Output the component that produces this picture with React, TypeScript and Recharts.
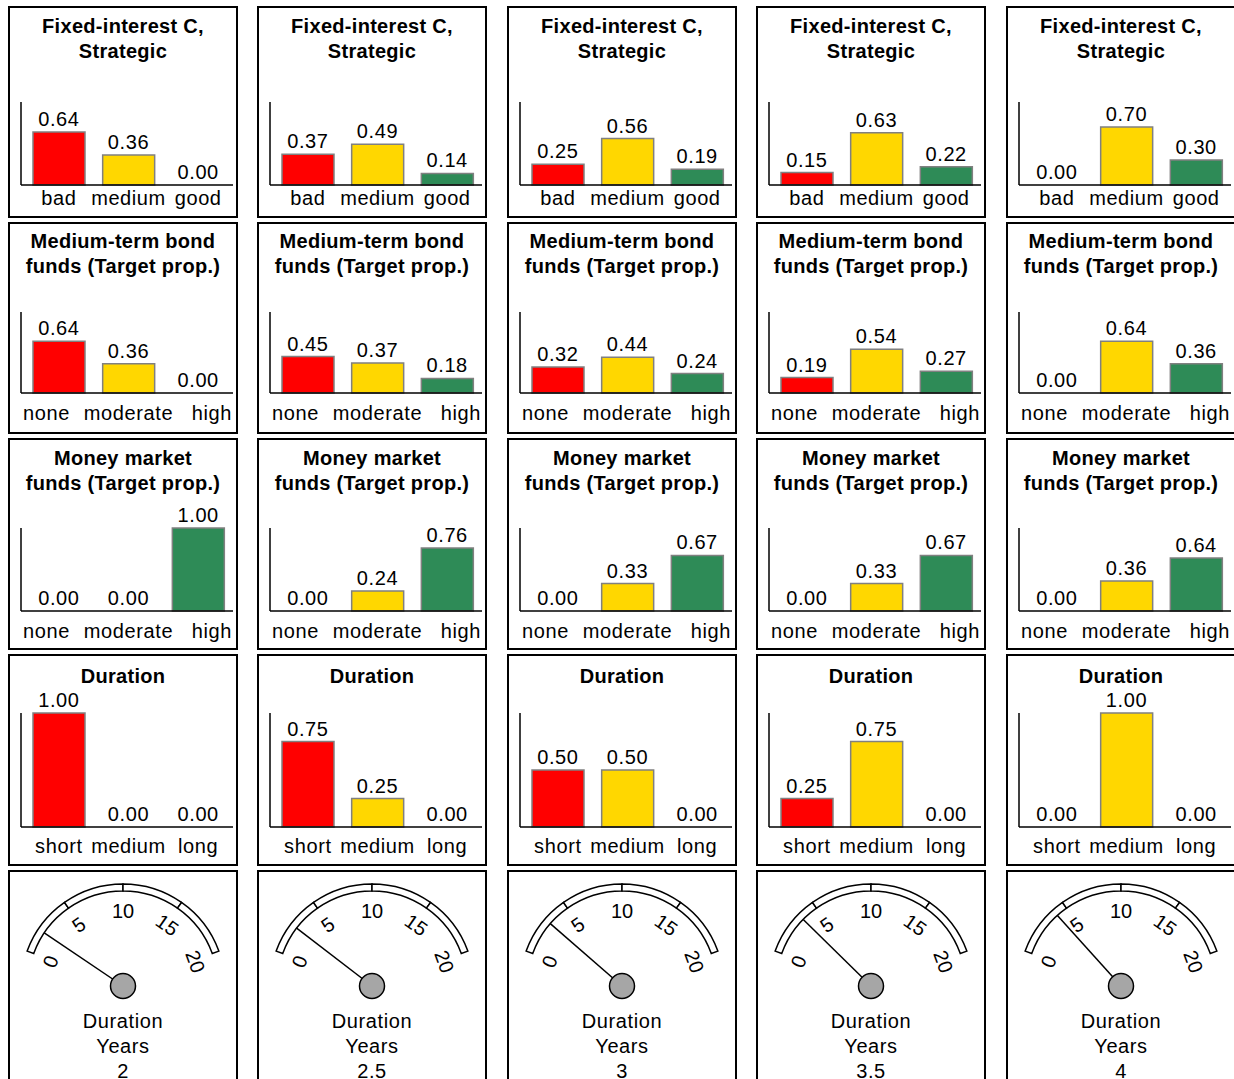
import React from "react";
import { ComposedChart, Bar, Line, XAxis, YAxis, Cell, LabelList, PieChart, Pie } from "recharts";

// categories
const qualityCats = ["bad", "medium", "good"];
const levelCats = ["none", "moderate", "high"];
const durationCats = ["short", "medium", "long"];

// probabilities, one list per column (5 columns)
const fixedInterest = [
  [0.64, 0.36, 0.0],
  [0.37, 0.49, 0.14],
  [0.25, 0.56, 0.19],
  [0.15, 0.63, 0.22],
  [0.0, 0.7, 0.3],
];
const mediumTermBond = [
  [0.64, 0.36, 0.0],
  [0.45, 0.37, 0.18],
  [0.32, 0.44, 0.24],
  [0.19, 0.54, 0.27],
  [0.0, 0.64, 0.36],
];
const moneyMarket = [
  [0.0, 0.0, 1.0],
  [0.0, 0.24, 0.76],
  [0.0, 0.33, 0.67],
  [0.0, 0.33, 0.67],
  [0.0, 0.36, 0.64],
];
const durationProbs = [
  [1.0, 0.0, 0.0],
  [0.75, 0.25, 0.0],
  [0.5, 0.5, 0.0],
  [0.25, 0.75, 0.0],
  [0.0, 1.0, 0.0],
];
const durationYears = [2, 2.5, 3, 3.5, 4];
const gaugeTicks = [0, 5, 10, 15, 20];

const barColors = ["#ff0000", "#ffd700", "#2e8b57"];

const colLefts = [8, 257, 507, 756, 1006];
const rowTops = [6, 222, 438, 654, 870];
const PW = 230;
const PH = 212;
const FONT = "'Liberation Sans', Arial, sans-serif";

const rows = [
  { title: ["Fixed-interest C,", "Strategic"], cats: qualityCats, values: fixedInterest, axisTop: 94, baseline: 177, labelDy: 20, spread: false, titleTop: 6 },
  { title: ["Medium-term bond", "funds (Target prop.)"], cats: levelCats, values: mediumTermBond, axisTop: 88, baseline: 169, labelDy: 27, spread: true, titleTop: 5 },
  { title: ["Money market", "funds (Target prop.)"], cats: levelCats, values: moneyMarket, axisTop: 88, baseline: 171, labelDy: 27, spread: true, titleTop: 6 },
  { title: ["Duration"], cats: durationCats, values: durationProbs, axisTop: 57, baseline: 171, labelDy: 26, spread: false, titleTop: 8 },
];

const panelStyle = (left: number, top: number): React.CSSProperties => ({
  position: "absolute",
  left,
  top,
  width: PW,
  height: PH,
  border: "2px solid #000",
  boxSizing: "border-box",
  background: "#fff",
});

function BarPanel({ left, top, row, col }: any) {
  const data = row.cats.map((c: string, i: number) => ({ cat: c, p: row.values[col][i] }));
  const cw = PW - 4;
  const ch = PH - 4;
  const band = (cw - 10 - 1 - 3 - 3) / row.cats.length;
  const last = row.cats.length - 1;
  return (
    <div style={panelStyle(left, top)}>
      <div
        style={{
          position: "absolute",
          left: 0,
          right: 0,
          top: row.titleTop,
          textAlign: "center",
          fontWeight: "bold",
          fontSize: 20,
          lineHeight: "25px",
          letterSpacing: 0.3,
        }}
      >
        {row.title.map((t: string) => (
          <div key={t}>{t}</div>
        ))}
      </div>
      <div style={{ position: "absolute", left: 0, top: 0 }}>
        <ComposedChart width={cw} height={ch} data={data} margin={{ top: row.axisTop, right: 3, bottom: 0, left: 10 }}>
          <YAxis width={1} type="number" domain={[0, 1]} tick={false} tickLine={false} axisLine={{ stroke: "#000", strokeWidth: 1.5 }} />
          <XAxis
            dataKey="cat"
            height={ch - row.baseline}
            interval={0}
            padding={{ left: 3, right: 0 }}
            tickLine={false}
            tickSize={0}
            tickMargin={0}
            axisLine={{ stroke: "#000", strokeWidth: 1.5 }}
            tick={(p: any) => {
              let anchor: "start" | "middle" | "end" = "middle";
              let tx = p.x;
              if (row.spread && p.index === 0) {
                anchor = "start";
                tx = p.x - band / 2 - 1;
              } else if (row.spread && p.index === last) {
                anchor = "end";
                tx = p.x + band / 2 - 1;
              }
              return (
                <text x={tx} y={p.y + row.labelDy} textAnchor={anchor} fontSize={20} fill="#000" letterSpacing={0.6}>
                  {p.payload.value}
                </text>
              );
            }}
          />
          <Bar dataKey="p" barSize={52} stroke="#808080" strokeWidth={1.5} isAnimationActive={false}>
            {data.map((_: any, i: number) => (
              <Cell key={i} fill={barColors[i]} />
            ))}
          </Bar>
          {/* invisible line carries the value labels, so 0.00 shows too */}
          <Line dataKey="p" stroke="none" dot={false} activeDot={false} isAnimationActive={false}>
            <LabelList
              dataKey="p"
              position="top"
              offset={6}
              formatter={(v: any) => Number(v).toFixed(2)}
              fill="#000"
              fontSize={20}
              letterSpacing={0.6}
            />
          </Line>
        </ComposedChart>
      </div>
    </div>
  );
}

const toXY = (cx: number, cy: number, r: number, a: number) => ({
  x: cx + r * Math.cos((a * Math.PI) / 180),
  y: cy - r * Math.sin((a * Math.PI) / 180),
});

function tickLabel(props: any) {
  const { cx, cy, startAngle, endAngle, index } = props;
  const items: { v: number; a: number }[] = [{ v: gaugeTicks[index], a: startAngle }];
  if (index === gaugeTicks.length - 2) items.push({ v: gaugeTicks[index + 1], a: endAngle });
  return (
    <g key={`t${index}`}>
      {items.map((it) => {
        const pt = toXY(cx, cy, 77, it.a);
        return (
          <text
            key={it.v}
            x={pt.x}
            y={pt.y + 2}
            textAnchor="middle"
            dominantBaseline="central"
            fontSize={20}
            fill="#000"
            transform={`rotate(${90 - it.a} ${pt.x} ${pt.y + 2})`}
          >
            {it.v}
          </text>
        );
      })}
    </g>
  );
}

function needleLabel(props: any) {
  const { cx, cy, outerRadius, index } = props;
  if (index !== 0) return <g key="n1" />;
  const a = props.endAngle ?? 2 * props.midAngle - props.startAngle;
  const tip = toXY(cx, cy, outerRadius, a);
  return (
    <g key="n0">
      <line x1={cx} y1={cy} x2={tip.x} y2={tip.y} stroke="#000" strokeWidth={1.5} />
      <circle cx={cx} cy={cy} r={12.5} fill="#a6a6a6" stroke="#000" strokeWidth={1.5} />
    </g>
  );
}

function GaugePanel({ left, top, years }: any) {
  const bandData = gaugeTicks.slice(1).map((t, i) => ({ v: t - gaugeTicks[i] }));
  const needleData = [{ v: years }, { v: gaugeTicks[gaugeTicks.length - 1] - years }];
  return (
    <div style={panelStyle(left, top)}>
      <div style={{ position: "absolute", left: 0, top: 0 }}>
        <PieChart width={PW - 4} height={PH - 4} margin={{ top: 0, right: 0, bottom: 0, left: 0 }}>
          <Pie
            data={bandData}
            dataKey="v"
            cx={113}
            cy={114}
            startAngle={160}
            endAngle={20}
            innerRadius={95}
            outerRadius={102}
            fill="#fff"
            stroke="#000"
            strokeWidth={1.5}
            isAnimationActive={false}
            labelLine={false}
            label={tickLabel}
          />
          <Pie
            data={needleData}
            dataKey="v"
            cx={113}
            cy={114}
            startAngle={160}
            endAngle={20}
            innerRadius={0}
            outerRadius={95}
            fill="transparent"
            stroke="none"
            isAnimationActive={false}
            labelLine={false}
            label={needleLabel}
          />
        </PieChart>
      </div>
      <div
        style={{
          position: "absolute",
          left: 0,
          right: 0,
          top: 137,
          textAlign: "center",
          fontSize: 20,
          lineHeight: "25px",
          letterSpacing: 0.6,
        }}
      >
        <div>Duration</div>
        <div>Years</div>
        <div>{years}</div>
      </div>
    </div>
  );
}

export default function App() {
  return (
    <div
      style={{
        position: "absolute",
        left: 0,
        top: 0,
        width: 1234,
        height: 1079,
        overflow: "hidden",
        background: "#fff",
        fontFamily: FONT,
        color: "#000",
      }}
    >
      {rows.map((row, r) =>
        colLefts.map((left, c) => (
          <BarPanel key={`${r}-${c}`} left={left} top={rowTops[r]} row={row} col={c} />
        ))
      )}
      {durationYears.map((y, c) => (
        <GaugePanel key={`g${c}`} left={colLefts[c]} top={rowTops[4]} years={y} />
      ))}
    </div>
  );
}
